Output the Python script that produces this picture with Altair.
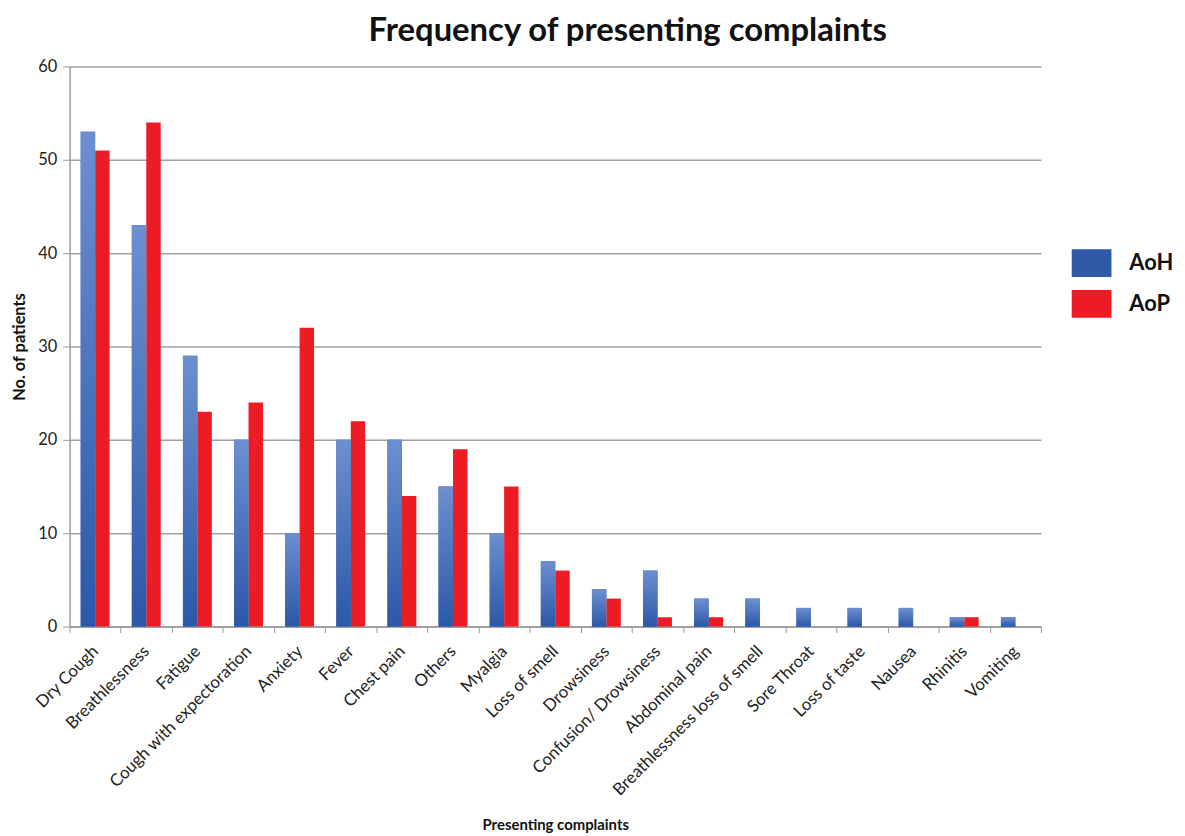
import altair as alt
import pandas as pd

categories = ["Dry Cough", "Breathlessness", "Fatigue", "Cough with expectoration", "Anxiety",
              "Fever", "Chest pain", "Others", "Myalgia", "Loss of smell", "Drowsiness",
              "Confusion/ Drowsiness", "Abdominal pain", "Breathlessness loss of smell",
              "Sore Throat", "Loss of taste", "Nausea", "Rhinitis", "Vomiting"]
aoh = [53, 43, 29, 20, 10, 20, 20, 15, 10, 7, 4, 6, 3, 3, 2, 2, 2, 1, 1]
aop = [51, 54, 23, 24, 32, 22, 14, 19, 15, 6, 3, 1, 1, 0, 0, 0, 0, 1, 0]
series = ["AoH", "AoP"]

rows = []
for c, a, p in zip(categories, aoh, aop):
    rows.append({"complaint": c, "group": "AoH", "n": a})
    rows.append({"complaint": c, "group": "AoP", "n": p})
df = pd.DataFrame(rows)

FONT = "Lato"

x_enc = alt.X("complaint:N", sort=categories,
              scale=alt.Scale(paddingInner=0, paddingOuter=0),
              axis=alt.Axis(title="Presenting complaints", labelAngle=-45, labelAlign="right",
                            labelBaseline="middle", labelFontSize=17, labelLimit=400,
                            labelFont=FONT, labelColor="#222", labelPadding=16,
                            tickBand="extent", tickSize=6, tickColor="#999", domainColor="#999",
                            domainWidth=1.5, titleFont=FONT, titleFontSize=15, titleFontWeight="bold",
                            titleY=192, titleBaseline="top", titleColor="#111"))
xo_enc = alt.XOffset("group:N", scale=alt.Scale(domain=series, paddingOuter=0.77, paddingInner=0))
y_enc = alt.Y("n:Q", scale=alt.Scale(domain=[0, 60]),
              axis=alt.Axis(title="No. of patients", values=[0, 10, 20, 30, 40, 50, 60],
                            labelFontSize=16.5, labelFont=FONT, labelColor="#222", labelPadding=6,
                            tickSize=7, tickColor="#999", domainColor="#999", domainWidth=1.5,
                            gridColor="#a0a0a0", gridWidth=1.5,
                            titleFont=FONT, titleFontSize=16.5, titleFontWeight="bold",
                            titlePadding=10, titleColor="#111"))

base = alt.Chart(df).mark_bar().encode(
    x=x_enc, xOffset=xo_enc, y=y_enc,
    color=alt.Color("group:N", scale=alt.Scale(domain=series, range=["#2f5aa8", "#ed1c24"]),
                    legend=alt.Legend(title=None, orient="none", legendX=1009, legendY=178,
                                      symbolType="M-1,-0.7L1,-0.7L1,0.7L-1,0.7Z",
                                      symbolSize=1600, symbolStrokeWidth=0, labelFontSize=22,
                                      labelFont=FONT, labelFontWeight="bold", labelColor="#111",
                                      labelOffset=18, rowPadding=7, padding=0))
)

grad = alt.LinearGradient(gradient="linear", x1=0, x2=0, y1=0, y2=1,
                          stops=[alt.GradientStop(color="#6c8fd0", offset=0),
                                 alt.GradientStop(color="#2c58a8", offset=1)])
over = alt.Chart(df).transform_filter(alt.datum.group == "AoH").mark_bar(color=grad).encode(
    x=alt.X("complaint:N", sort=categories), xOffset=xo_enc, y=alt.Y("n:Q"))

chart = alt.layer(base, over).properties(
    width=978, height=564,
    autosize=alt.AutoSizeParams(type="none"),
    padding={"left": 62, "top": 56, "right": 137, "bottom": 206},
    title=alt.TitleParams("Frequency of presenting complaints", font=FONT, fontSize=33,
                          fontWeight="bold", anchor="middle", dx=73, offset=11, color="#111"),
).configure_view(stroke=None)

chart.save("out.html", embed_options={"renderer": "svg", "actions": False})
